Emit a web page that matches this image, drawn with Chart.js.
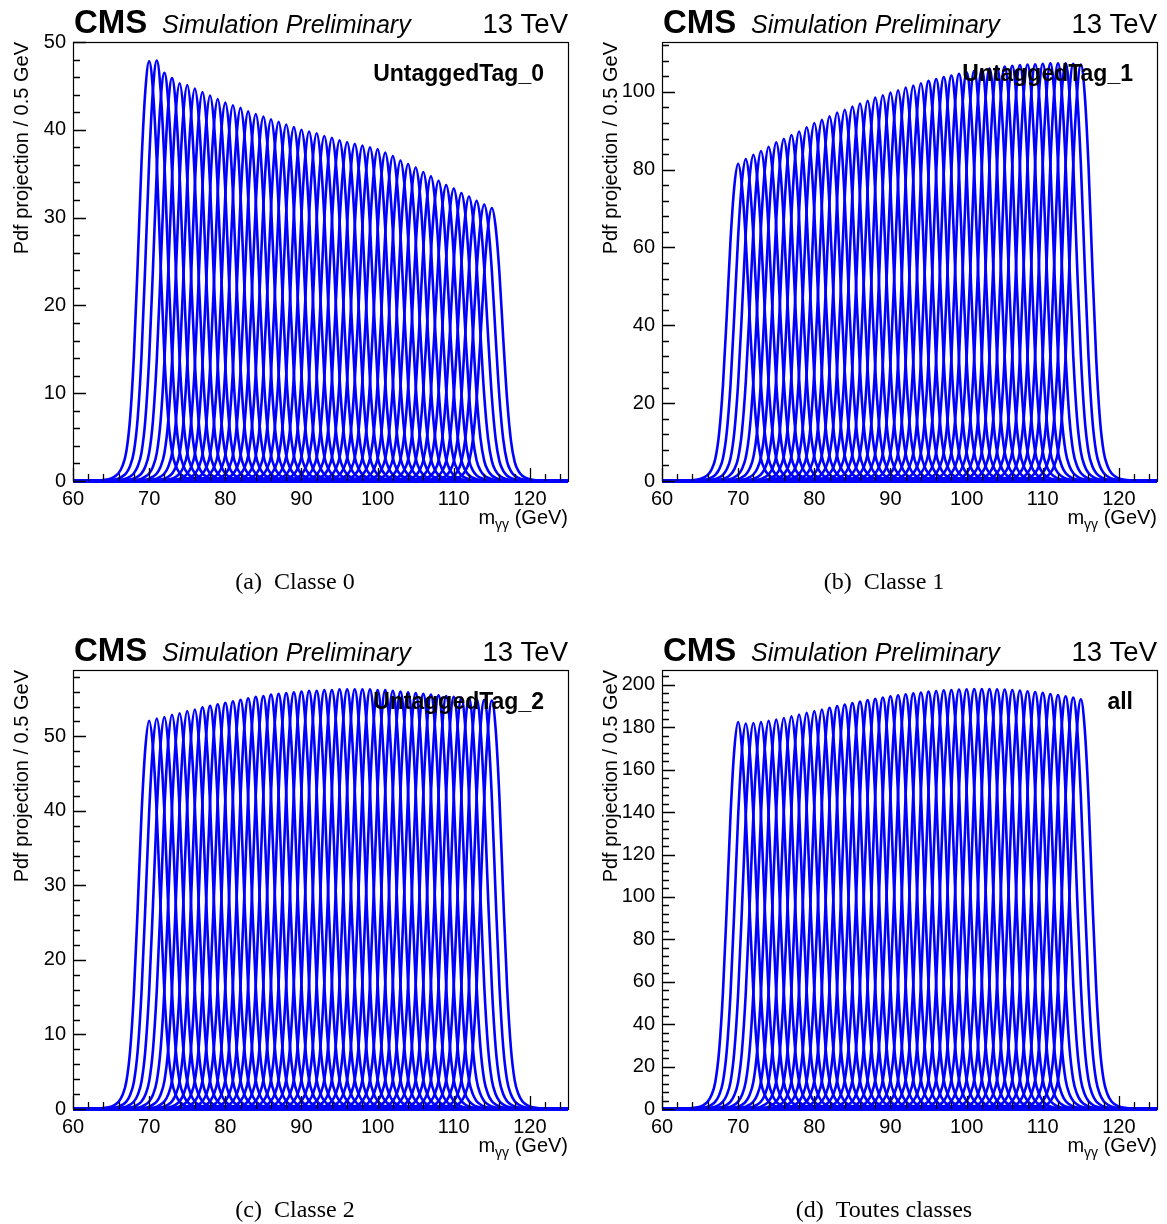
<!DOCTYPE html>
<html>
<head>
<meta charset="utf-8">
<script src="https://cdn.jsdelivr.net/npm/chart.js@4.4.0/dist/chart.umd.min.js"></script>
<style>
body { margin: 0; background: #fff; width: 1167px; height: 1224px; position: relative; overflow: hidden; }
.panel { position: absolute; width: 589px; height: 628px; }
</style>
</head>
<body>
<div class="panel" style="left:0;top:0"><canvas id="c0" width="589" height="628"></canvas></div>
<div class="panel" style="left:589px;top:0"><canvas id="c1" width="589" height="628"></canvas></div>
<div class="panel" style="left:0;top:628px"><canvas id="c2" width="589" height="628"></canvas></div>
<div class="panel" style="left:589px;top:628px"><canvas id="c3" width="589" height="628"></canvas></div>
<script>
// signal mass points (GeV)
const masses = [70, 71, 72, 73, 74, 75, 76, 77, 78, 79, 80, 81, 82, 83, 84, 85, 86, 87, 88, 89, 90, 91, 92,
    93, 94, 95, 96, 97, 98, 99, 100, 101, 102, 103, 104, 105, 106, 107, 108, 109, 110, 111, 112, 113, 114, 115]

// peak heights
const peaksTag0 = [47.8, 47.9, 46.5, 45.9, 45.3, 45.1, 44.7, 44.3, 43.9, 43.5, 43.1, 42.8, 42.5, 42.1, 41.8, 41.5,
    41.2, 40.9, 40.6, 40.3, 40.0, 39.8, 39.6, 39.3, 39.1, 38.8, 38.6, 38.4, 38.2, 38.0, 37.8, 37.4, 37.0, 36.5, 36.1,
    35.7, 35.2, 34.7, 34.2, 33.7, 33.3, 32.8, 32.4, 31.9, 31.5, 31.1]
const peaksTag1 = [81.5, 82.7, 83.8, 84.8, 85.9, 87.0, 87.9, 88.9, 89.8, 90.9, 92.0, 92.8, 93.7, 94.7, 95.4, 96.2,
    97.0, 97.7, 98.5, 99.1, 99.8, 100.4, 101.1, 101.6, 102.2, 102.8, 103.3, 103.8, 104.2, 104.6, 105.0, 105.4, 105.7,
    106.0, 106.3, 106.5, 106.7, 106.9, 107.0, 107.1, 107.2, 107.3, 107.3, 107.3, 107.2, 107.0]
const peaksTag2 = [52.1, 52.4, 52.6, 52.9, 53.1, 53.4, 53.6, 53.9, 54.1, 54.3, 54.5, 54.7, 54.9, 55.1, 55.3, 55.4,
    55.6, 55.7, 55.8, 55.9, 56.0, 56.1, 56.1, 56.2, 56.2, 56.3, 56.3, 56.3, 56.3, 56.3, 56.2, 56.2, 56.1, 56.0, 55.9,
    55.8, 55.7, 55.6, 55.5, 55.4, 55.3, 55.2, 55.1, 55.0, 54.9, 54.8]
const peaksAll = [182.5, 181.8, 182.0, 182.4, 183.0, 183.6, 184.4, 185.2, 186.0, 186.8, 187.6, 188.4, 189.2, 190.0,
    190.7, 191.4, 192.1, 192.8, 193.4, 194.0, 194.6, 195.1, 195.6, 196.0, 196.4, 196.8, 197.1, 197.4, 197.6, 197.8,
    197.9, 198.0, 198.0, 198.0, 197.9, 197.8, 197.6, 197.3, 197.0, 196.6, 196.2, 195.7, 195.2, 194.6, 194.0, 193.2]

// line shape around each peak: offset (GeV) and fraction of the peak height
const shapeOffsets = [-8, -7, -6, -5, -4.5, -4, -3.5, -3, -2.5, -2, -1.5, -1, -0.5, 0, 0.5, 1, 1.5, 2, 2.5, 3, 3.5, 4, 4.5, 5, 6, 7, 8]
const shapeFrac = [0, 0.001, 0.0025, 0.006, 0.011, 0.019, 0.036, 0.07, 0.15, 0.3, 0.52, 0.76, 0.93, 1,
    0.93, 0.76, 0.52, 0.3, 0.15, 0.07, 0.036, 0.019, 0.011, 0.006, 0.0025, 0.001, 0]

const xRange = [60, 125]
const xTicks = [60, 70, 80, 90, 100, 110, 120]
const yTicksTag0 = [0, 10, 20, 30, 40, 50]
const yTicksTag1 = [0, 20, 40, 60, 80, 100]
const yTicksTag2 = [0, 10, 20, 30, 40, 50]
const yTicksAll = [0, 20, 40, 60, 80, 100, 120, 140, 160, 180, 200]
const yMax = [50, 112.8, 58.9, 207]
const tagNames = ['UntaggedTag_0', 'UntaggedTag_1', 'UntaggedTag_2', 'all']
const captions = ['(a)  Classe 0', '(b)  Classe 1', '(c)  Classe 2', '(d)  Toutes classes']

const blue = 'rgb(0,0,255)'
const sans = '"Liberation Sans", Arial, sans-serif'

function curves(peaks) {
    return masses.map((m, i) => {
        let pts = [{ x: xRange[0], y: 0 }]
        shapeOffsets.forEach((d, k) => {
            let x = m + d
            if (x > xRange[0] && x < xRange[1]) pts.push({ x: x, y: peaks[i] * shapeFrac[k] })
        })
        pts.push({ x: xRange[1], y: 0 })
        return {
            data: pts,
            borderColor: blue,
            borderWidth: 2.6,
            pointRadius: 0,
            fill: false,
            cubicInterpolationMode: 'monotone',
            clip: false
        }
    })
}

// ROOT style frame and inward ticks
const frameTicks = {
    id: 'frameTicks',
    beforeDatasetsDraw(chart) {
        let a = chart.chartArea
        let ctx = chart.ctx
        ctx.save()
        ctx.strokeStyle = '#000'
        ctx.lineWidth = 1.2
        ctx.strokeRect(a.left + 0.5, a.top + 0.5, a.right - a.left, a.bottom - a.top)
        ctx.restore()
    },
    afterDatasetsDraw(chart, args, opts) {
        let a = chart.chartArea
        let ctx = chart.ctx
        let xs = chart.scales.x
        let ys = chart.scales.y
        ctx.save()
        ctx.strokeStyle = '#000'
        ctx.lineWidth = 1.3
        ctx.beginPath()
        for (let v = xRange[0]; v <= xRange[1]; v += 2) {
            let px = Math.round(xs.getPixelForValue(v)) + 0.5
            let len = (v % 10 === 0) ? 13 : 7
            ctx.moveTo(px, a.bottom)
            ctx.lineTo(px, a.bottom - len)
        }
        for (let v = 0; v <= ys.max; v += opts.minor) {
            let py = Math.round(ys.getPixelForValue(v)) + 0.5
            let len = (Math.abs(v % opts.major) < 1e-6) ? 13 : 7
            ctx.moveTo(a.left, py)
            ctx.lineTo(a.left + len, py)
        }
        ctx.stroke()
        ctx.restore()
    },
    afterDraw(chart, args, opts) {
        let a = chart.chartArea
        let ctx = chart.ctx
        ctx.save()
        ctx.fillStyle = '#000'
        ctx.textBaseline = 'alphabetic'
        ctx.textAlign = 'left'
        ctx.font = 'bold 33px ' + sans
        ctx.fillText('CMS', a.left + 1, 33)
        ctx.font = 'italic 25px ' + sans
        ctx.fillText('Simulation Preliminary', a.left + 89, 33)
        ctx.textAlign = 'right'
        ctx.font = '27.5px ' + sans
        ctx.fillText('13 TeV', a.right, 33)

        ctx.font = 'bold 23px ' + sans
        ctx.fillText(opts.tag, a.right - 24, 81)

        // y title
        ctx.save()
        ctx.translate(28, a.top)
        ctx.rotate(-Math.PI / 2)
        ctx.textAlign = 'right'
        ctx.font = '20px ' + sans
        ctx.fillText('Pdf projection / 0.5 GeV', 0, 0)
        ctx.restore()

        // x title with subscript
        ctx.textAlign = 'left'
        ctx.font = '20px ' + sans
        let t1 = ' (GeV)'
        let w1 = ctx.measureText(t1).width
        ctx.font = '14px ' + sans
        let sub = 'γγ'
        let w2 = ctx.measureText(sub).width
        ctx.font = '20px ' + sans
        let w3 = ctx.measureText('m').width
        let x0 = a.right - w1 - w2 - w3
        ctx.fillText('m', x0, 524)
        ctx.font = '14px ' + sans
        ctx.fillText(sub, x0 + w3, 529)
        ctx.font = '20px ' + sans
        ctx.fillText(t1, x0 + w3 + w2, 524)

        // caption
        ctx.textAlign = 'center'
        ctx.font = '24px "Liberation Serif", "DejaVu Serif", serif'
        ctx.fillText(opts.caption, 295, 589)
        ctx.restore()
    }
}

function makeChart(id, peaks, yTicks, max, minor, tag, caption) {
    let ctx = document.getElementById(id).getContext('2d')
    new Chart(ctx, {
        type: 'line',
        data: { datasets: curves(peaks) },
        options: {
            responsive: false,
            animation: false,
            devicePixelRatio: 1,
            layout: { padding: { top: 42, right: 21, left: 0, bottom: 117 } },
            scales: {
                x: {
                    type: 'linear',
                    min: xRange[0],
                    max: xRange[1],
                    afterBuildTicks: s => { s.ticks = xTicks.map(v => ({ value: v })) },
                    afterFit: s => { s.height = 30 },
                    grid: { display: false, drawTicks: false },
                    border: { display: false },
                    ticks: { padding: 6, color: '#000', font: { family: sans, size: 20 } }
                },
                y: {
                    type: 'linear',
                    min: 0,
                    max: max,
                    afterBuildTicks: s => { s.ticks = yTicks.map(v => ({ value: v })) },
                    afterFit: s => { s.width = 73 },
                    grid: { display: false, drawTicks: false },
                    border: { display: false },
                    ticks: { padding: 7, color: '#000', font: { family: sans, size: 20 } }
                }
            },
            plugins: {
                legend: { display: false },
                tooltip: { enabled: false },
                frameTicks: { minor: minor, major: yTicks[1] - yTicks[0], tag: tag, caption: caption }
            }
        },
        plugins: [frameTicks]
    })
}

makeChart('c0', peaksTag0, yTicksTag0, yMax[0], 2, tagNames[0], captions[0])
makeChart('c1', peaksTag1, yTicksTag1, yMax[1], 4, tagNames[1], captions[1])
makeChart('c2', peaksTag2, yTicksTag2, yMax[2], 2, tagNames[2], captions[2])
makeChart('c3', peaksAll, yTicksAll, yMax[3], 4, tagNames[3], captions[3])
</script>
</body>
</html>
